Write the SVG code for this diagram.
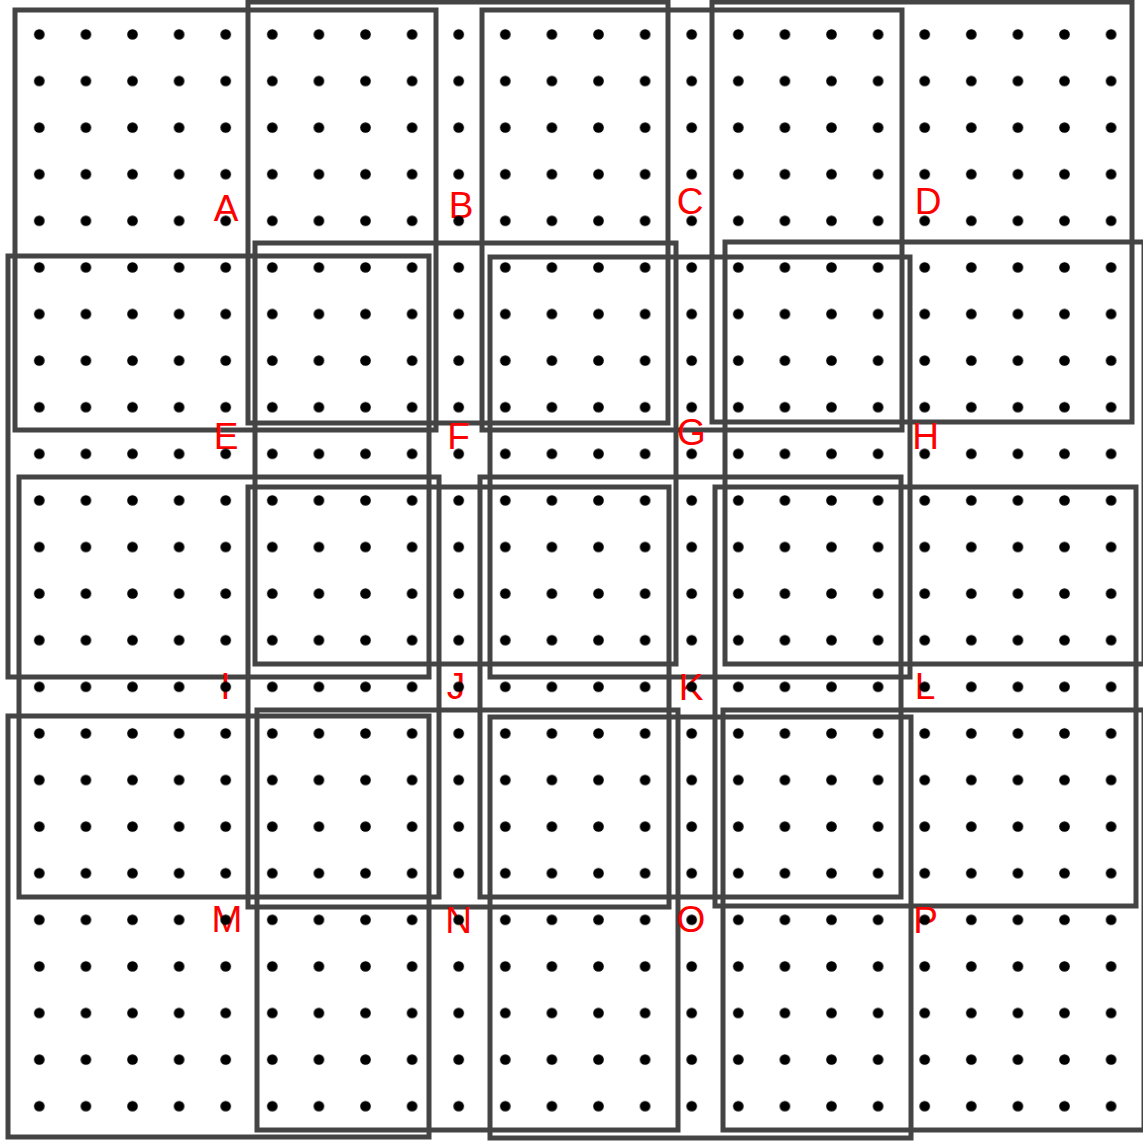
<svg xmlns="http://www.w3.org/2000/svg" width="1143" height="1141" viewBox="0 0 1143 1141">
<style>
.sq{fill:none;stroke:#444444;stroke-width:5}
.lb{fill:#ff0000;font-family:"Liberation Sans",Arial,sans-serif;font-size:37px;text-anchor:middle}
</style>
<defs>
<pattern id="dots" x="16" y="11.1" width="46.6" height="46.6" patternUnits="userSpaceOnUse">
<circle cx="23.3" cy="23.3" r="5.3" fill="#000"/>
</pattern>
</defs>
<rect width="1143" height="1141" fill="#fff"/>
<g id="squares">
<g id="sq-A"><rect class="sq" x="15" y="10" width="421" height="420"/><text class="lb" x="226" y="221">A</text></g>
<g id="sq-B"><rect class="sq" x="248" y="2" width="420" height="421"/><text class="lb" x="461" y="218">B</text></g>
<g id="sq-C"><rect class="sq" x="482" y="10" width="420" height="420"/><text class="lb" x="690" y="214">C</text></g>
<g id="sq-D"><rect class="sq" x="712" y="2" width="420" height="420"/><text class="lb" x="928" y="214">D</text></g>
<g id="sq-E"><rect class="sq" x="8" y="256" width="421" height="421"/><text class="lb" x="226" y="449">E</text></g>
<g id="sq-F"><rect class="sq" x="255" y="243" width="421" height="421"/><text class="lb" x="458.5" y="449">F</text></g>
<g id="sq-G"><rect class="sq" x="490" y="257" width="420" height="420"/><text class="lb" x="691.5" y="445">G</text></g>
<g id="sq-H"><rect class="sq" x="725" y="242" width="419" height="422"/><text class="lb" x="925.5" y="449">H</text></g>
<g id="sq-I"><rect class="sq" x="19" y="477" width="420" height="420"/><text class="lb" x="225.5" y="699">I</text></g>
<g id="sq-J"><rect class="sq" x="248" y="487" width="421" height="420"/><text class="lb" x="456" y="699">J</text></g>
<g id="sq-K"><rect class="sq" x="480" y="477" width="421" height="420"/><text class="lb" x="691" y="700">K</text></g>
<g id="sq-L"><rect class="sq" x="715" y="487" width="421" height="419"/><text class="lb" x="925" y="699">L</text></g>
<g id="sq-M"><rect class="sq" x="8" y="716" width="421" height="421"/><text class="lb" x="227" y="932">M</text></g>
<g id="sq-N"><rect class="sq" x="257" y="710" width="421" height="420"/><text class="lb" x="458.5" y="933">N</text></g>
<g id="sq-O"><rect class="sq" x="490" y="717" width="421" height="421"/><text class="lb" x="691" y="932">O</text></g>
<g id="sq-P"><rect class="sq" x="723" y="710" width="421" height="420"/><text class="lb" x="925.5" y="933">P</text></g>
</g>
<g id="connectors"></g>
<rect id="dot-grid" x="16" y="11.1" width="1118.4" height="1118.4" fill="url(#dots)"/>
</svg>
